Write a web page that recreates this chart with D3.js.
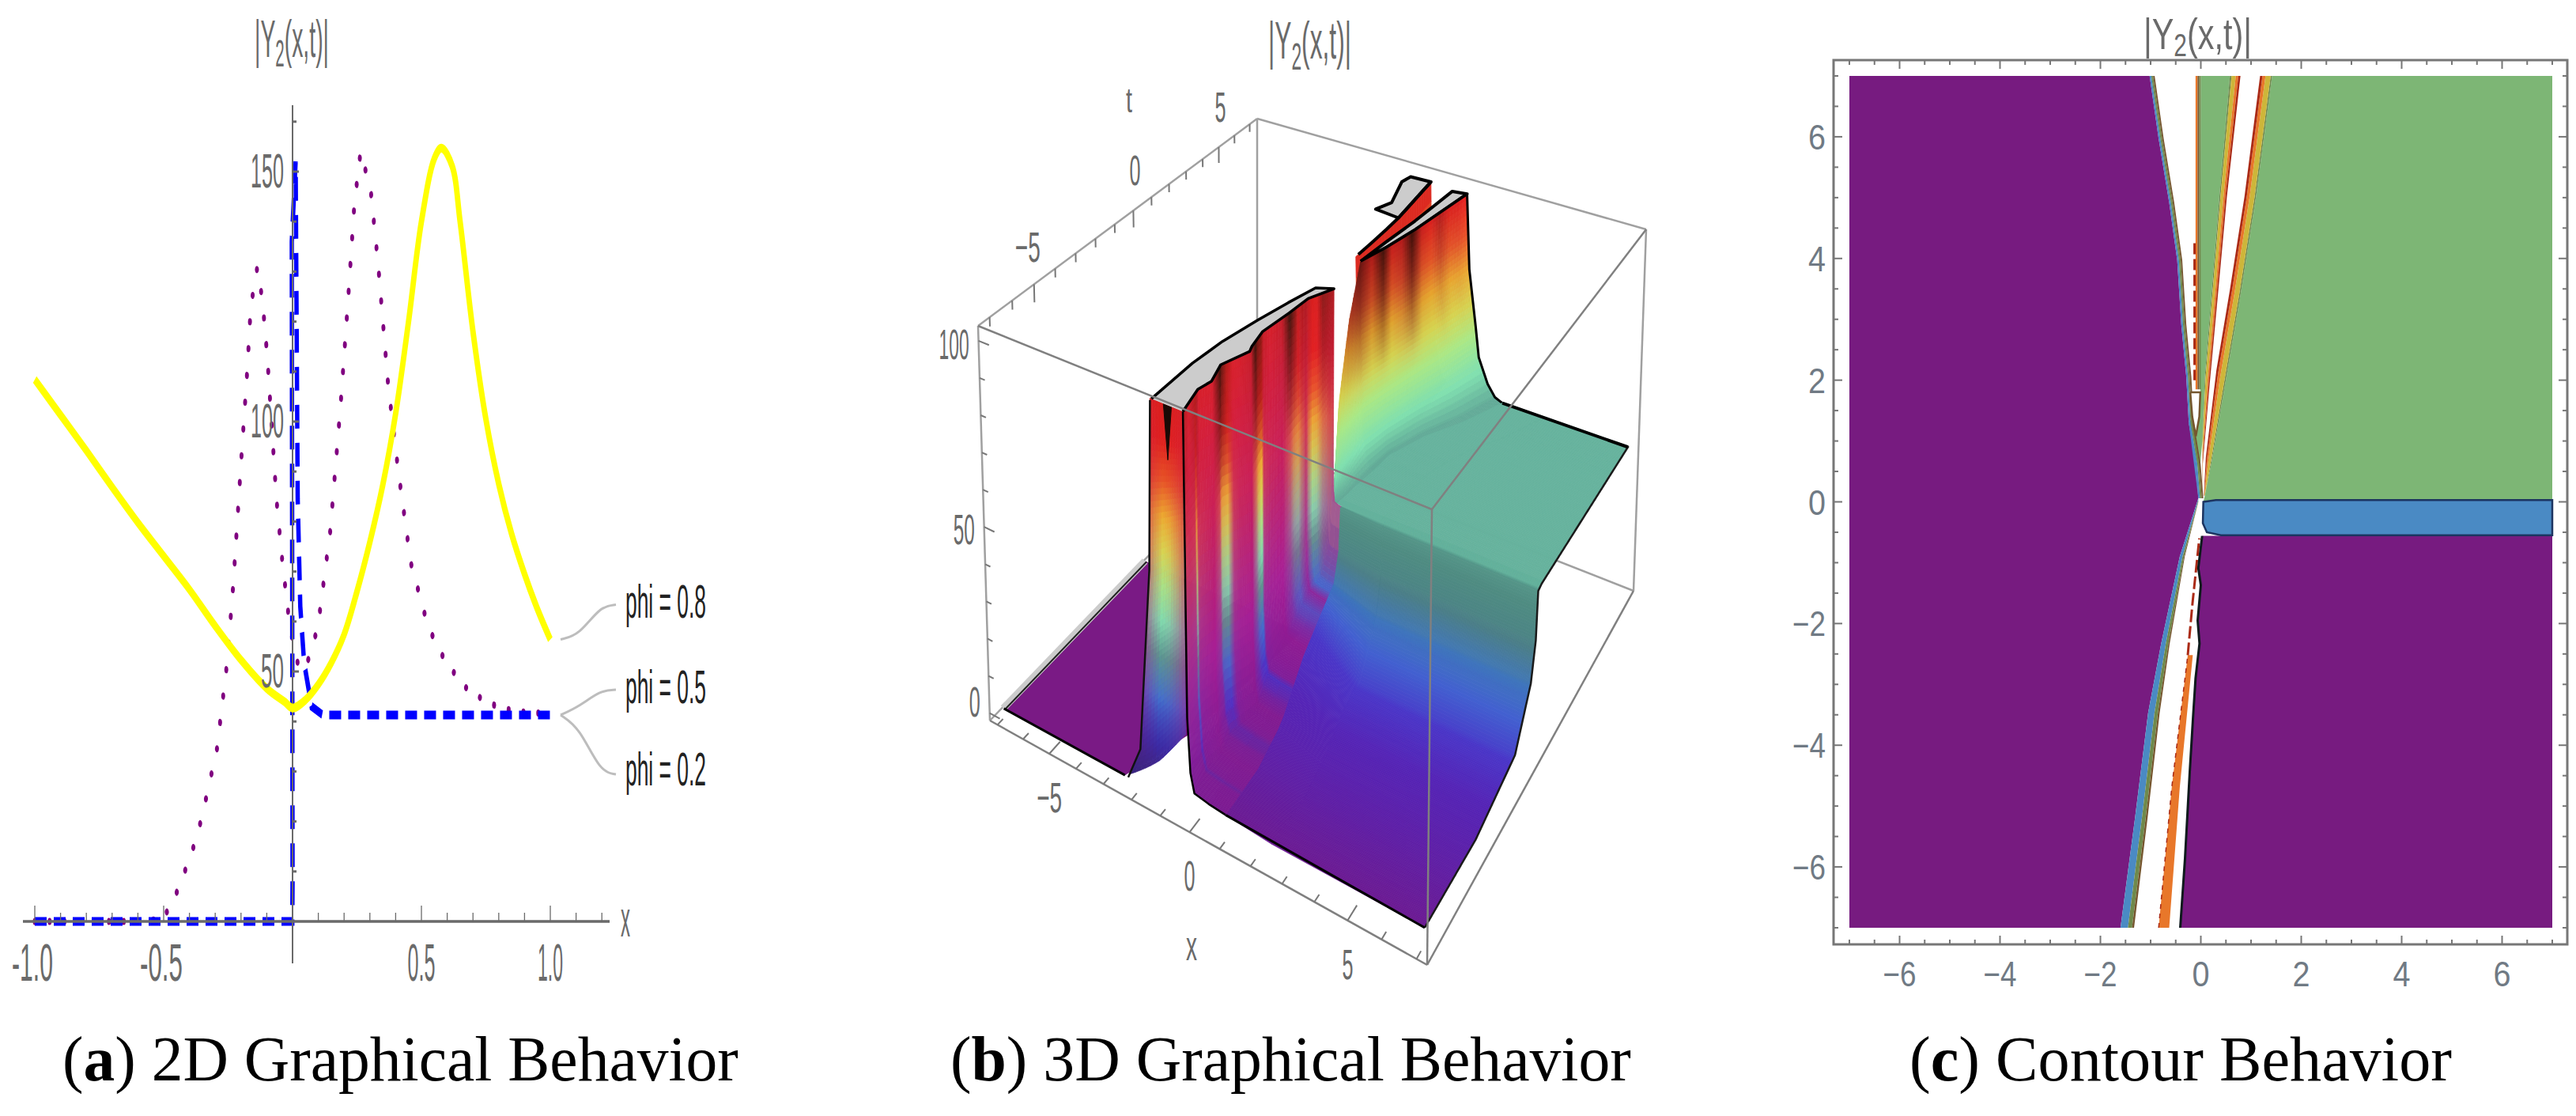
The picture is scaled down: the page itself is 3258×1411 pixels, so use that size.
<!DOCTYPE html>
<html>
<head>
<meta charset="utf-8">
<style>
body { margin:0; background:#fff; }
svg { display:block; }
text { font-family:"Liberation Sans", sans-serif; }
.cap text, text.cap { font-family:"Liberation Serif", serif; fill:#000; }
</style>
<script src="https://cdnjs.cloudflare.com/ajax/libs/d3/7.8.5/d3.min.js"></script>
</head>
<body>
<svg id="fig" width="3258" height="1411"></svg>
<script>
// ---- panel a: 2D curves
var yellowX = [-1,-.9,-.8,-.7,-.6,-.5,-.4,-.3,-.2,-.1,-.03,0,.05,.1,.15,.2,.25,.3,.35,.4,.45,.5,.55,.578,.62,.65,.7,.75,.8,.85,.9,.95,1];
var yellowY = [108.4,101.3,94.2,86.9,79.8,73.1,66.4,59.1,52.3,46.6,43.9,42.7,44.3,47.4,51.7,57.4,66,75.9,87.3,101.6,120,140,152.6,154.7,151,140,118,100.5,87.5,77.5,69.5,62.5,56.4];
var purpleX = [-1,-.8,-.6,-.508,-.469,-.43,-.371,-.332,-.293,-.254,-.23,-.2,-.176,-.162,-.137,-.117,-.098,-.0625,-.039,-.01,.02,.05,.098,.146,.186,.215,.24,.264,.303,.332,.371,.41,.459,.527,.596,.674,.752,.82,.918,1];
var purpleY = [0,0,0,.4,3.3,8.3,16.8,25.4,34.6,51.7,67.4,91.6,110,123,130.8,124.4,113,84.5,71.7,58.8,51.7,50.5,58.8,78,103,124,143.6,154,146.4,131.5,107.3,90.2,71.7,58.8,51.7,46.7,43.9,42.5,41.7,41.7];
var blueX = [-1,-.5,-.001,0,-.003,.012,.02,.03,.045,.074,.117,.5,1];
var blueY = [0,0,0,8,136,152,84.5,63,51.7,43,41.3,41.3,41.3];
var phiLabels = ["phi = 0.8","phi = 0.5","phi = 0.2"];
var axX = [-1,-.5,.5,1], axXLabels = ["-1.0","-0.5","0.5","1.0"], axXWidths = [52,54,35,32];
var axY = [50,100,150], axYWidths = [29,42,42];

// ---- panel b: ridge and plane (x, t, height)
var xBox = [-7.3,7.3], tBox = [-7.5,7.5], zBox = [-2,104];
var planeT = [-7.5,-7.1,-4,-1.4,-.35,-.05,.05,.3,7.5];
var planeZ = [2,2,1.5,5.5,17.5,27,39.5,40,40];
var planeColT = [-7.5,-5,-3,-1.6,-.9,-.4,-.12,.02,.16,7.5];
var planeCol = ["#6f1a8e","#5f1fa6","#5524b6","#4a36c8","#4260d0","#4076bc","#4a7d88","#4f8c82","#66b29d","#66b29d"];
var crest1T = [-7.05,-6.05,-5.55,-4.8,-3.85,-3.6,-2.85,-1.65,-.7,.15], crest1X = [-.4,-.6,-.48,-.68,-.32,-.4,-.52,-.35,-.25,.15];
var plat1LeftT = [-7.05,-5.15,-3.85,-2.45,-1.2,-.1], plat1LeftX = [-1.45,-1.4,-1.25,-.95,-.65,-.35];
var foot1T = [-7.05,-5.4,-3.6,-2.15,-1.4,.15], foot1X = [.9,.9,.65,.45,.5,.45], foot1Lift = [1,2,3,7,11,0];
var crest2T = [.2,.6,1.2,1.9,3,4.45,5.75,7.35], crest2X = [.15,.1,.1,.1,.4,.7,.9,1.15], crest2Z = [42,66,86,100,100,100,100,100];
var foot2X = [.3,.35,.4,.5,.6,1.15,1.9,2.6];
var plat2BackT = [1.9,3.3,4.9,7.25], plat2BackX = [.1,.25,.45,.65];
var crest3T = [2.2,3,4,4.8,7.45], crest3X = [-.15,-.12,-.1,-.1,-.25];
var plat3T = [4.8,4.9,5.55,6.95,7.4,7.45], plat3X = [-.1,-1,-.75,-1.1,-1,-.25];
// streak columns of the two walls: share of magenta ramp, share of dark at the top
var streak1T = [-7,-6.7,-6.35,-6.25,-6.15,-6,-5.5,-5,-4.85,-4.6,-4.4,-4.2,-3.7,-3.35,-3.2,-2.95,-2.8,-2.5,-1.95,-1.6,-1.4,-1.2,-1,-.8,-.55,-.4,-.2,.15];
var streak1Mix = [.85,.9,.85,.2,.85,.9,1,.75,.25,.12,.85,.95,1,.55,.2,0,.85,.95,1,.7,.4,.3,.6,.85,.1,.15,.5,.75];
var streak1Dark = [.3,.1,.25,.3,.3,.1,.1,.7,.9,.3,.1,.1,.2,.9,.6,.5,.2,.1,.2,.9,.6,.2,.3,.3,.1,.1,.5,.3];
var streak2T = [.2,1.2,1.9,2.4,2.9,3.3,3.8,4.3,4.8,5.3,5.8,6.3,6.8,7.35];
var streak2Mix = [0,.2,.35,.1,.25,.05,.3,.45,.1,.05,.2,.05,.15,.1];
var streak2Dark = [0,.5,.7,.3,.9,.2,.3,.9,.2,.1,.3,.1,.1,0];
var shapeH1 = [0,.004,.012,.06,.2,1], shapeS1 = [1,.6,.2,.1,.03,0];
var shapeH2 = [0,.016,.07,.19,.34,.62,1], shapeS2 = [1,.81,.62,.38,.286,.095,0];
var rainbowZ = [0,12,25,38,48,58,68,78,88,100];
var rainbowC = ["#7a1a85","#4a30c8","#4070d0","#5a9a90","#80e0b0","#a8e888","#d8d850","#f0b030","#f05a28","#ee2020"];
var frontProfX = [-2.45,-2,-1.6,-1.5], frontProfZ = [-1,8,55.5,99.5];
var cutStops = [0,.15,.4,.6,.85,1], cutMix = [.55,.3,.02,.1,.35,.55];
var ticks3dX = [-5,0,5], ticks3dT = [-5,0,5], ticks3dZ = [0,50,100], ticks3dZDy = [0,18,19];

// ---- panel c: contour boundaries as [x, t]
var purpleLeftEdge = [[-1.02,7],[-.84,5.97],[-.63,4.92],[-.47,3.97],[-.39,2.92],[-.29,2.06],[-.24,1.3],[-.105,.63],[-.05,.06],[-.42,-.9],[-.79,-2.33],[-1.05,-3.47],[-1.31,-5.19],[-1.6,-7]];
var purpleRightEdge = [[-.41,-7],[-.315,-5.86],[-.22,-4.43],[-.157,-3.57],[-.105,-2.9],[-.026,-2.33],[-.063,-1.95],[0,-1.37],[-.05,-1.09],[.026,-.56]];
var greenEdge = [[1.42,7],[1.1,5.02],[.79,3.4],[.47,1.87],[.21,.63],[.08,.1],[.05,0]];
var rightBandInner = [[1.18,7],[.87,5.02],[.58,3.49],[.31,2.16],[.1,.73],[.06,.1]];
var wedgeBandInner = [[.79,7],[.52,5.02],[.34,3.4],[.18,1.97],[.04,.63],[.03,.1]];
var wedgeEdge = [[.58,7],[.37,5.02],[.21,3.4],[.08,2.06],[.03,1]];
var bandLowerLeft = [[-.05,0],[-.32,-.9],[-.62,-2.33],[-.82,-3.47],[-1.06,-5.19],[-1.33,-7]];
var orangeA = [[-.84,-7],[-.58,-4.7],[-.26,-2.52]], orangeB = [[-.63,-7],[-.42,-4.7],[-.16,-2.52]];
var blueBand = [[.05,0],[.3,.03],[7,.03],[7,-.55],[.4,-.55],[.12,-.5],[.04,-.35]];
var loopEdge = [[-.21,1.8],[-.01,1.8],[-.03,1.4],[-.1,1.08],[-.17,1.4],[-.21,1.8]];
var contourTicks = [-6,-4,-2,0,2,4,6];

var svg = d3.select("#fig");
var grey = "#6a6a6a";

// text squeezed sideways to a given width, like the stretched bitmap labels
function squeezed(parent, str, x, y, size, width, anchor, fill) {
	var g = parent.append("g");
	var t = g.append("text").attr("font-size", size).attr("text-anchor", anchor || "start").attr("fill", fill || grey).text(str);
	var sx = width ? width / t.node().getComputedTextLength() : 1;
	g.attr("transform", "translate(" + x + "," + y + ") scale(" + sx + ",1)");
	return t;
}

function yTitle(parent, x, y, size, width, subDy) {
	var g = parent.append("g");
	var t = g.append("text").attr("font-size", size).attr("fill", grey);
	t.append("tspan").text("|Y");
	t.append("tspan").attr("font-size", size * .72).attr("dy", subDy).text("2");
	t.append("tspan").attr("dy", -subDy).text("(x,t)|");
	var sx = width / t.node().getComputedTextLength();
	g.attr("transform", "translate(" + x + "," + y + ") scale(" + sx + ",1)");
}

function caption(letter, rest, x, width) {
	var g = svg.append("g");
	var t = g.append("text").attr("class", "cap").attr("font-size", 80);
	t.append("tspan").text("(");
	t.append("tspan").attr("font-weight", "bold").text(letter);
	t.append("tspan").text(") " + rest);
	var sx = width / t.node().getComputedTextLength();
	g.attr("transform", "translate(" + x + ",1366) scale(" + sx + ",1)");
}
caption("a", "2D Graphical Behavior", 79, 855);
caption("b", "3D Graphical Behavior", 1202, 861);
caption("c", "Contour Behavior", 2415, 686);

/* ---------- panel a ---------- */
var xA = d3.scaleLinear().domain([-1,1]).range([44,696]);
var yA = d3.scaleLinear().domain([0,150]).range([1165,217]);
var pa = svg.append("g");
// the plot was squeezed sideways, so strokes are drawn in a squeezed group too
function squeezedCurve(parent, xs, ys, sx, width, color, dash, cap, smooth) {
	var line = d3.line().x(function(d) { return xA(d) / sx; }).y(function(d, i) { return yA(ys[i]); });
	if (smooth) line.curve(d3.curveCatmullRom);
	return parent.append("g").attr("transform", "scale(" + sx + ",1)").append("path").attr("d", line(xs))
		.attr("fill", "none").attr("stroke", color).attr("stroke-width", width)
		.attr("stroke-dasharray", dash).attr("stroke-linecap", cap);
}
squeezedCurve(pa, purpleX, purpleY, .55, 9, "#800080", "0.1 34", "round");
squeezedCurve(pa, blueX, blueY, .5, 11, "#0000ff", "30 18", "butt");

// axes
pa.append("line").attr("x1", 29).attr("x2", 771).attr("y1", yA(0)).attr("y2", yA(0)).attr("stroke", grey).attr("stroke-width", 3.5);
pa.append("line").attr("x1", xA(0)).attr("x2", xA(0)).attr("y1", 133).attr("y2", 1218).attr("stroke", grey).attr("stroke-width", 2);
pa.selectAll("line.tx").data(d3.range(-10,13).filter(function(d) { return d != 0; })).join("line")
	.attr("x1", function(d) { return xA(d / 10); }).attr("x2", function(d) { return xA(d / 10); })
	.attr("y1", yA(0)).attr("y2", function(d) { return yA(0) - (d % 5 == 0 ? 20 : 11); })
	.attr("stroke", grey).attr("stroke-width", 1.3);
pa.selectAll("line.ty").data(d3.range(10,170,10)).join("line")
	.attr("x1", xA(0)).attr("x2", function(d) { return xA(0) + (d % 50 == 0 ? 8 : 5); })
	.attr("y1", function(d) { return yA(d); }).attr("y2", function(d) { return yA(d); })
	.attr("stroke", grey).attr("stroke-width", 3);
squeezedCurve(pa, yellowX, yellowY, .62, 11, "#ffff00", null, "butt", true);

axX.forEach(function(v, i) { squeezed(pa, axXLabels[i], xA(v) + (v < 0 ? -3 : 0), 1240, 66, axXWidths[i], "middle"); });
axY.forEach(function(v, i) { squeezed(pa, String(v), 359, yA(v) + 20, 62, axYWidths[i], "end"); });
squeezed(pa, "x", 785, 1184, 64, 12);
yTitle(pa, 322, 72, 66, 94, 12);

// callouts from the curve ends to the labels
var calloutEnd = [yellowY[yellowY.length - 1], blueY[blueY.length - 1], blueY[blueY.length - 1]];
var calloutDy = [[0,-6,-42,-44],[0,-11,-31,-32],[0,16,72,75]];
var calloutDx = [0,24,50,70];
var labelY = [781,889,993];
calloutEnd.forEach(function(v, i) {
	var pts = calloutDx.map(function(dx, k) { return [xA(1) + 13 + dx, yA(v) + calloutDy[i][k]]; });
	pa.append("path").attr("d", d3.line().curve(d3.curveBasis)(pts)).attr("fill", "none").attr("stroke", "#bdbdbd").attr("stroke-width", 3);
	squeezed(pa, phiLabels[i], 791, labelY[i], 60, 102, "start", "#222");
});

/* ---------- panel b ---------- */
var floorQ = [[1252,911],[1805,1220],[2066,747],[1590,560]], topQ = [[1237,412],[1811,644],[2082,290],[1590,150]];
function homography(q) {
	var x0=q[0][0],y0=q[0][1],x1=q[1][0],y1=q[1][1],x2=q[2][0],y2=q[2][1],x3=q[3][0],y3=q[3][1];
	var dx1=x1-x2,dx2=x3-x2,dx3=x0-x1+x2-x3,dy1=y1-y2,dy2=y3-y2,dy3=y0-y1+y2-y3,d=dx1*dy2-dx2*dy1;
	var g=(dx3*dy2-dx2*dy3)/d,h=(dx1*dy3-dx3*dy1)/d;
	return [x1-x0+g*x1,x3-x0+h*x3,x0,y1-y0+g*y1,y3-y0+h*y3,y0,g,h];
}
function applyH(m, u, v) {
	var w = m[6]*u + m[7]*v + 1;
	return [(m[0]*u + m[1]*v + m[2]) / w, (m[3]*u + m[4]*v + m[5]) / w];
}
var floorH = homography(floorQ), topH = homography(topQ);
var uS = d3.scaleLinear().domain(xBox).range([0,1]), vS = d3.scaleLinear().domain(tBox).range([0,1]), wS = d3.scaleLinear().domain(zBox).range([0,1]);
function P(x, t, z) {
	var a = applyH(floorH, uS(x), vS(t)), b = applyH(topH, uS(x), vS(t)), w = wS(z);
	return [a[0] + (b[0]-a[0])*w, a[1] + (b[1]-a[1])*w];
}
var lineP = d3.line();
var rainbow = d3.scaleLinear().domain(rainbowZ).range(rainbowC).clamp(true);
var planeColor = d3.scaleLinear().domain(planeColT).range(planeCol).clamp(true);
var planeHeight = d3.scaleLinear().domain(planeT).range(planeZ).clamp(true);
var magenta = d3.scaleLinear().domain([0,30,60,100]).range(["#7a1a90","#a81e96","#c41e60","#ea2030"]).clamp(true);
// boost moves a wall's colours up the ramp, mixFrom is the height where the magenta share starts
function wallColor(z, m, dk, boost, mixFrom) {
	var share = mixFrom ? m * Math.max(0, Math.min(1, (z - mixFrom) / 30)) : m;
	var c = d3.interpolateRgb(rainbow(z * (boost || 1)), magenta(z))(share);
	var f = Math.max(0, (z - 65) / 35) * dk;
	return d3.interpolateRgb(c, "#2a1208")(f);
}
var pb = svg.append("g");
function quad(list, pts, fill) { list.push({ d: lineP(pts) + "Z", fill: fill }); }
function drawPolys(list) {
	pb.append("g").selectAll("path").data(list).join("path")
		.attr("d", function(d) { return d.d; }).attr("fill", function(d) { return d.fill; }).attr("stroke", function(d) { return d.fill; }).attr("stroke-width", .8);
}

function wall(opts) {
	var list = [], shape = d3.scaleLinear().domain(opts.shapeH).range(opts.shapeS);
	// height levels: regular, plus the read points of the wall shape
	var f = d3.range(0, 1.0001, 1 / opts.nz).concat(opts.shapeH).sort(d3.ascending);
	function pt(tt, ff) {
		var top = opts.top(tt), base = opts.base(tt), x = opts.crest(tt) + (opts.foot(tt) - opts.crest(tt)) * shape(ff);
		return P(x, tt, base + (top - base) * ff);
	}
	for (var t = opts.t0; t > opts.t1 + 1e-6; t -= opts.dt) {
		var t2 = t - opts.dt;
		for (var k = 0; k < f.length - 1; k++) {
			var a = f[k], b = f[k+1];
			if (b <= a) continue;
			var zm = opts.base(t) + (opts.top(t) - opts.base(t)) * (a + b) / 2;
			quad(list, [pt(t,a),pt(t,b),pt(t2,b),pt(t2,a)], wallColor(zm, opts.mix(t), opts.dark(t), opts.boost, opts.mixFrom));
		}
	}
	drawPolys(list);
}
function outline(parent, pts, width, color, fill) {
	return parent.append("path").attr("d", lineP(pts.map(function(p) { return P(p[0],p[1],p[2]); })))
		.attr("fill", fill || "none").attr("stroke", color).attr("stroke-width", width).attr("stroke-linejoin", "round");
}

// back edges of the box
var boxCol = "#a0a0a0";
var cL=[xBox[0],tBox[0],zBox[0]], cF=[xBox[1],tBox[0],zBox[0]], cR=[xBox[1],tBox[1],zBox[0]], cB=[xBox[0],tBox[1],zBox[0]];
var cA=[xBox[0],tBox[0],zBox[1]], cD=[xBox[1],tBox[0],zBox[1]], cC=[xBox[1],tBox[1],zBox[1]], cT=[xBox[0],tBox[1],zBox[1]];
[[cT,cB],[cB,cL],[cB,cR],[cA,cT],[cT,cC],[cR,cC],[cA,cL]].forEach(function(e) { outline(pb, e, 2.5, boxCol); });

// inner strip behind the second wall
var crest3 = d3.scaleLinear().domain(crest3T).range(crest3X);
wall({ t0:7.45, t1:2.2, dt:.2, nz:10, shapeH:shapeH2, shapeS:shapeS2, crest:crest3, foot:function(t) { return crest3(t) + .7; },
	top:function() { return 100; }, base:function() { return 40; }, mix:function() { return .1; }, dark:function() { return .1; } });
outline(pb, plat3T.map(function(t,i) { return [plat3X[i],t,100]; }).concat([[-.1,4.8,100]]), 4, "#000", "#cccccc");
outline(pb, crest3T.map(function(t,i) { return [crest3X[i],t,100]; }), 4, "#000");

// second strip, back edge to front edge
var crest2 = d3.scaleLinear().domain(crest2T).range(crest2X), crest2H = d3.scaleLinear().domain(crest2T).range(crest2Z), foot2 = d3.scaleLinear().domain(crest2T).range(foot2X);
var p2 = plat2BackT.map(function(t,i) { return [plat2BackX[i],t,100]; });
crest2T.slice(3).reverse().forEach(function(t) { p2.push([crest2(t),t,100]); });
outline(pb, p2, 4, "#000", "#cccccc");
var mix2 = d3.scaleLinear().domain(streak2T).range(streak2Mix), dark2 = d3.scaleLinear().domain(streak2T).range(streak2Dark);
wall({ t0:7.35, t1:.2, dt:.06, nz:40, shapeH:shapeH2, shapeS:shapeS2, crest:crest2, foot:foot2, top:crest2H, base:function() { return 40; }, mix:mix2, dark:dark2, mixFrom:60 });
outline(pb, crest2T.slice(3).map(function(t) { return [crest2(t),t,100]; }), 3.5, "#000");
outline(pb, shapeH2.map(function(h,i) { return [crest2(7.35) + (foot2(7.35)-crest2(7.35))*shapeS2[i], 7.35, 40 + 60*h]; }), 3, "#000");

// right-hand plane, far rows first; rows are closer together on the steep step
var foot1 = d3.scaleLinear().domain(foot1T).range(foot1X), lift1 = d3.scaleLinear().domain(foot1T).range(foot1Lift);
function planeFoot(t) { return t > .2 ? foot2(Math.min(t,7.35)) : foot1(t); }
function planeLift(t) { return t > .2 ? 0 : lift1(t); }
var planeList = [];
var planeRows = d3.range(-7.05,-.6,.05).concat(d3.range(-.6,.4,.006)).concat(d3.range(.4,7.41,.05)).reverse();
planeRows.slice(0,-1).forEach(function(t, i) {
	var t2 = planeRows[i+1], h1 = planeHeight(t), h2 = planeHeight(t2);
	var x1 = planeFoot(t), x2 = planeFoot(t2);
	quad(planeList, [P(x1,t,h1+planeLift(t)),P(x1+1.5,t,h1),P(x2+1.5,t2,h2),P(x2,t2,h2+planeLift(t2))], planeColor(t));
	quad(planeList, [P(x1+1.5,t,h1),P(7,t,h1),P(7,t2,h2),P(x2+1.5,t2,h2)], planeColor(t));
});
drawPolys(planeList);
var edgeT = d3.range(-7.05, 7.41, .05);
outline(pb, edgeT.map(function(t) { return [7,t,planeHeight(t)]; }), 2.5, "#1a1a1a");
outline(pb, [[foot2(7.35),7.35,40],[7,7.35,40]], 4, "#000");
outline(pb, [[foot1(-7.05),-7.05,planeHeight(-7.05)+1],[7,-7.05,planeHeight(-7.05)]], 3, "#000");

// left plane and its light rim
outline(pb, [[-7,-7.2,.5],[-2.45,-7.2,.5],[-1.63,-4.9,.5],[-.9,0,.5],[-7,0,.5]], 0, "#7a1a85", "#7a1a85");
outline(pb, [[-7.02,-7.2,.5],[-7.02,0,.5]], 9, "#cccccc");
outline(pb, [[-6.95,-7.2,.5],[-6.95,0,.5]], 2, "#222");
outline(pb, [[-7,-7.2,.5],[-2.45,-7.2,.5]], 3, "#000");

// front cut of the first ridge; its bottom rises to the right
var cutList = [];
var cutLeft = d3.scaleLinear().domain(frontProfZ).range(frontProfX).clamp(true);
var cutFloor = d3.scaleLinear().domain([0,1]).range([0,18]);
var cutShare = d3.scaleLinear().domain(cutStops).range(cutMix);
var cutLevels = 60, ds = 1 / 14;
function cutPt(s, k) {
	var z = cutFloor(s) + (100 - cutFloor(s)) * k / cutLevels, xa = cutLeft(z);
	return P(xa + (-.42 - xa) * s, -7.05, z);
}
d3.range(0, 1 - 1e-6, ds).forEach(function(s) {
	var s2 = s + ds;
	d3.range(cutLevels).forEach(function(k) {
		var z = cutFloor(s) + (100 - cutFloor(s)) * (k + .5) / cutLevels;
		var c = wallColor(z, cutShare(s + ds / 2), .1, 1.1);
		quad(cutList, [cutPt(s,k),cutPt(s2,k),cutPt(s2,k+1),cutPt(s,k+1)], d3.interpolateRgb(c, "#26267a")(z < 24 ? (24-z)/24*.8 : 0));
	});
});
drawPolys(cutList);
outline(pb, frontProfX.map(function(x,i) { return [x,-7.05,frontProfZ[i]]; }), 2.5, "#111");

// first wall, far rows first, then its plateau
var crest1 = d3.scaleLinear().domain(crest1T).range(crest1X);
var mix1 = d3.scaleLinear().domain(streak1T).range(streak1Mix), dark1 = d3.scaleLinear().domain(streak1T).range(streak1Dark);
function base1(t) { return planeHeight(t) + lift1(t); }
wall({ t0:.15, t1:-7.05, dt:.05, nz:36, shapeH:shapeH1, shapeS:shapeS1, crest:crest1, foot:foot1, boost:1.18,
	top:function() { return 100; }, base:base1, mix:mix1, dark:dark1 });
outline(pb, shapeH1.map(function(h,i) { return [crest1(-7.05) + (foot1(-7.05)-crest1(-7.05))*shapeS1[i], -7.05, base1(-7.05) + (100-base1(-7.05))*h]; }), 2.5, "#000");
outline(pb, [[-1.05,-7.05,100],[-.92,-7.05,86],[-.78,-7.05,100]], 1, "#1a0a06", "#1a0a06");
var plat1 = plat1LeftT.map(function(t,i) { return [plat1LeftX[i],t,100]; });
crest1T.slice().reverse().forEach(function(t, i) { plat1.push([crest1X[crest1X.length - 1 - i],t,100]); });
outline(pb, plat1, 3.5, "#000", "#cccccc");

// front edges of the box, over the surface
[[cA,cD],[cD,cC],[cD,cF],[cL,cF],[cF,cR]].forEach(function(e) { outline(pb, e, 2.5, "#808080"); });

// ticks and labels of the box
ticks3dX.forEach(function(v) {
	var p = P(v,tBox[0],zBox[0]);
	squeezed(pb, String(v).replace("-","\u2212"), p[0], p[1] + 74, 54, v < 0 ? 32 : 14, "middle");
});
ticks3dT.forEach(function(v) {
	var p = P(xBox[0],v,zBox[1]);
	squeezed(pb, String(v).replace("-","\u2212"), p[0] + 2 - (v < 0 ? 10 : 0), p[1] - 32 + (v < 0 ? 4 : 0), 54, v < 0 ? 32 : 14, "middle");
});
ticks3dZ.forEach(function(v, i) {
	var p = P(xBox[0],tBox[0],v);
	squeezed(pb, String(v), p[0] - 12, p[1] + 4 + ticks3dZDy[i], 54, v >= 100 ? 38 : v >= 50 ? 27 : 14, "end");
});
d3.range(-7,8).forEach(function(v) {
	outline(pb, [[v,tBox[0],zBox[0]],[v,tBox[0]+(v % 5 == 0 ? .5 : .25),zBox[0]]], 2, "#777");
	outline(pb, [[xBox[0],v,zBox[1]],[xBox[0],v,zBox[1]-(v % 5 == 0 ? 5 : 2.5)]], 2, "#777");
});
d3.range(0,101,10).forEach(function(v) {
	outline(pb, [[xBox[0],tBox[0],v],[xBox[0]+(v % 50 == 0 ? .4 : .2),tBox[0],v]], 2, "#777");
});
squeezed(pb, "x", 1507, 1214, 54, 14, "middle");
squeezed(pb, "t", 1428, 142, 44, 8, "middle");
yTitle(pb, 1604, 74, 66, 105, 14);

/* ---------- panel c ---------- */
var xC = d3.scaleLinear().domain([-7,7]).range([2339,3228]);
var yC = d3.scaleLinear().domain([-7,7]).range([1173,96]);
var pc = svg.append("g");
var polyC = d3.line().x(function(d) { return xC(d[0]); }).y(function(d) { return yC(d[1]); });
function fillC(pts, col) { return pc.append("path").attr("d", polyC(pts) + "Z").attr("fill", col); }
function bandC(a, b, col) { return fillC(a.concat(b.slice().reverse()), col); }
function mixEdge(a, b, s) {
	// intermediate edge between two read edges with the same number of points
	return a.map(function(p, i) { return [p[0] + (b[i][0] - p[0]) * s, p[1] + (b[i][1] - p[1]) * s]; });
}
var cPurple = "#771b80", cGreen = "#7db675", cBlue = "#4a8ac4", cOlive = "#6f8a4c", cYellow = "#cdb63a", cOrange = "#e8772a", cRed = "#aa2a16", cBrown = "#75562e";

fillC(purpleLeftEdge.concat([[-7,-7],[-7,7]]), cPurple);
fillC(purpleRightEdge.concat([[7,-.55],[7,-7]]), cPurple);
fillC(greenEdge.concat([[7,0],[7,7]]), cGreen);
// the wedge between the two white strips
fillC(wedgeEdge.concat([[-.03,.45],[-.1,.75],[-.2,1.35],[-.21,1.8],[-.01,1.8],[0,7]]), cGreen);
fillC([[-.105,.63],[-.2,1.35],[-.24,1.3],[-.05,.06]], cBlue);

// right bands
var rb1 = mixEdge(greenEdge.slice(0,6), rightBandInner, .12), rb2 = mixEdge(greenEdge.slice(0,6), rightBandInner, .55), rb3 = mixEdge(greenEdge.slice(0,6), rightBandInner, .8);
bandC(greenEdge.slice(0,6), rb1, cOlive); bandC(rb1, rb2, cYellow); bandC(rb2, rb3, cOrange); bandC(rb3, rightBandInner, cRed);
var wedgeTop = wedgeEdge.concat([[.03,.1]]);
var wb1 = mixEdge(wedgeTop, wedgeBandInner, .15), wb2 = mixEdge(wedgeTop, wedgeBandInner, .55), wb3 = mixEdge(wedgeTop, wedgeBandInner, .8);
bandC(wedgeTop, wb1, cOlive); bandC(wb1, wb2, cYellow); bandC(wb2, wb3, cOrange); bandC(wb3, wedgeBandInner, cRed);

// left bands along the purple edge
var upperEdge = purpleLeftEdge.slice(0,9);
var shift = function(pts, d) { return pts.map(function(p) { return [p[0] + d, p[1]]; }); };
bandC(upperEdge, shift(upperEdge, .035), cBlue);
bandC(shift(upperEdge, .035), shift(upperEdge, .07), cOlive);
bandC(shift(upperEdge, .07), shift(upperEdge, .1), cBrown);
var lowerEdge = purpleLeftEdge.slice(8);
var lb1 = mixEdge(lowerEdge, bandLowerLeft, .55), lb2 = mixEdge(lowerEdge, bandLowerLeft, .85);
bandC(lowerEdge, lb1, cBlue); bandC(lb1, lb2, cOlive); bandC(lb2, bandLowerLeft, cBrown);

// vertical strip above the loop
fillC([[-.105,7],[-.065,7],[-.065,1.85],[-.105,1.85]], cOrange);
fillC([[-.065,7],[-.03,7],[-.03,1.85],[-.065,1.85]], cBrown);
fillC([[-.03,7],[0,7],[0,1.85],[-.03,1.85]], cOlive);
pc.append("path").attr("d", polyC([[-.125,4.25],[-.125,2.0]])).attr("stroke", cRed).attr("stroke-width", 3).attr("stroke-dasharray", "14 6");
fillC(loopEdge, "#fff");
pc.append("path").attr("d", polyC(loopEdge)).attr("fill", "none").attr("stroke", cBrown).attr("stroke-width", 2.5);

// lower centre strip
bandC(orangeA, orangeB, cOrange);
pc.append("path").attr("d", polyC([[-.26,-2.52],[-.17,-1.7],[-.03,-.6]])).attr("fill", "none").attr("stroke", cRed).attr("stroke-width", 3).attr("stroke-dasharray", "16 5");
pc.append("path").attr("d", polyC(orangeA)).attr("fill", "none").attr("stroke", cRed).attr("stroke-width", 1.5).attr("stroke-dasharray", "6 6");

// dark edge of the lower purple area
pc.append("path").attr("d", polyC(purpleRightEdge)).attr("fill", "none").attr("stroke", "#0e1a1c").attr("stroke-width", 3);
fillC(blueBand, cBlue).attr("stroke", "#1c3460").attr("stroke-width", 2.5);

// frame and ticks
pc.append("rect").attr("x", 2319).attr("y", 76).attr("width", 928).attr("height", 1118).attr("fill", "none").attr("stroke", "#777").attr("stroke-width", 3);
var minor = d3.range(-7, 7.01, .5);
function tickMarks(values, len) {
	values.forEach(function(v) {
		pc.append("path").attr("d", lineP([[xC(v),1194],[xC(v),1194-len]])).attr("stroke", "#777").attr("stroke-width", 2);
		pc.append("path").attr("d", lineP([[xC(v),76],[xC(v),76+len]])).attr("stroke", "#777").attr("stroke-width", 2);
		pc.append("path").attr("d", lineP([[2319,yC(v)],[2319+len,yC(v)]])).attr("stroke", "#777").attr("stroke-width", 2);
		pc.append("path").attr("d", lineP([[3247,yC(v)],[3247-len,yC(v)]])).attr("stroke", "#777").attr("stroke-width", 2);
	});
}
tickMarks(minor.filter(function(v) { return v % 2 != 0; }), 6);
tickMarks(contourTicks, 11);
contourTicks.forEach(function(v) {
	var s = String(v).replace("-","\u2212");
	squeezed(pc, s, xC(v), 1247, 44, v < 0 ? 42 : 22, "middle", "#707a84");
	squeezed(pc, s, 2309, yC(v) + 16, 44, v < 0 ? 42 : 22, "end", "#707a84");
});
yTitle(pc, 2711, 62, 56, 137, 9);
</script>
</body>
</html>
